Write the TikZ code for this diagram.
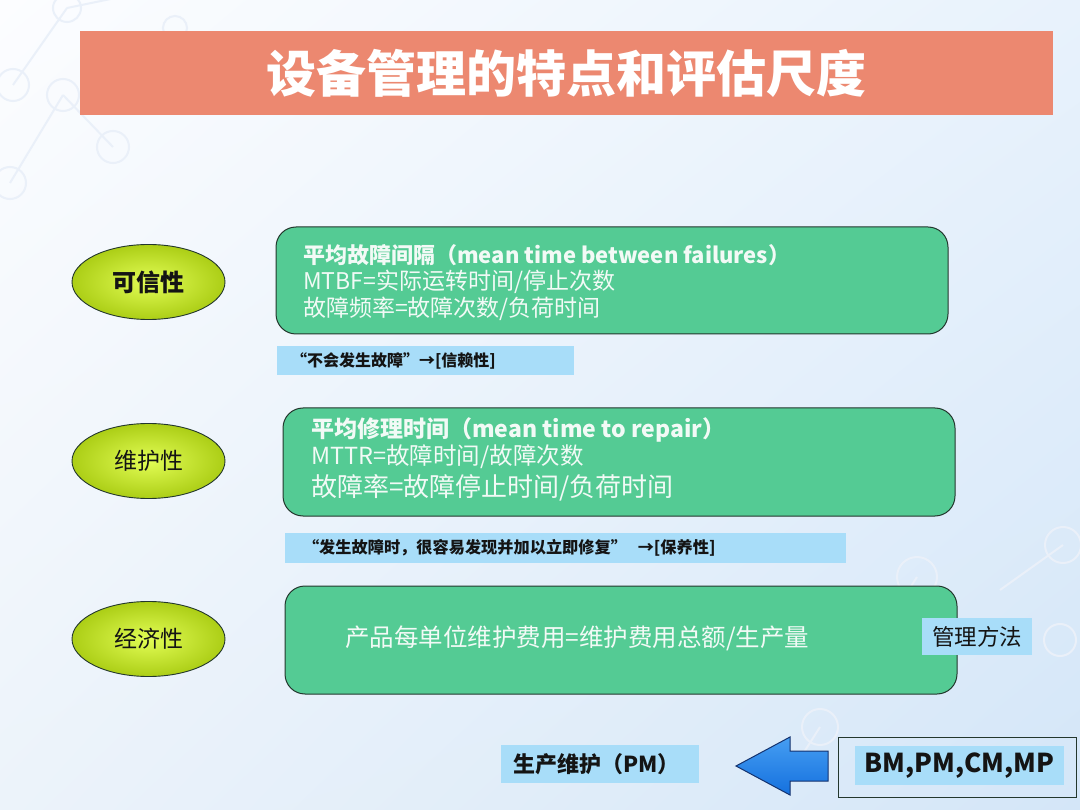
\documentclass[tikz,border=0pt]{standalone}
\usepackage{fontspec}
\setmainfont{Noto Sans CJK SC}
\usetikzlibrary{shapes.geometric,shadings}

\definecolor{titlebar}{RGB}{236,136,112}
\definecolor{boxgreen}{RGB}{84,203,148}
\definecolor{labelblue}{RGB}{168,221,249}
\definecolor{boxline}{RGB}{35,55,45}
\definecolor{boxtext}{RGB}{242,250,246}
\definecolor{ellin}{RGB}{226,253,85}
\definecolor{ellout}{RGB}{172,206,22}
\definecolor{arrowtop}{RGB}{70,158,242}
\definecolor{arrowbot}{RGB}{20,112,222}
\definecolor{arrowline}{RGB}{20,50,110}
\definecolor{deco}{RGB}{234,240,249}
\definecolor{bgtl}{RGB}{252,253,255}
\definecolor{bgtr}{RGB}{232,242,252}
\definecolor{bgbl}{RGB}{236,243,250}
\definecolor{bgbr}{RGB}{212,230,248}
\definecolor{darktext}{RGB}{20,20,20}

\begin{document}
\begin{tikzpicture}[x=1pt,y=-1pt,
  titlebox/.style={fill=titlebar, minimum width=973, minimum height=84, inner sep=0,
    text=white, font=\fontsize{50}{52}\selectfont\bfseries},
  ell/.style={ellipse, draw=boxline, line width=0.9pt, inner color=ellin, outer color=ellout,
    minimum width=153, minimum height=75, inner sep=0, text=darktext,
    font=\fontsize{23}{25}\selectfont},
  gbox/.style={draw=boxline, line width=1pt, fill=boxgreen, rounded corners=20,
    minimum width=672, inner sep=0},
  boxtxt/.style={anchor=west, inner sep=0, text=boxtext},
  lbl/.style={fill=labelblue, inner ysep=0, align=left, text=darktext},
  deconet/.style={draw=deco, line width=2pt}
]
\useasboundingbox (0,0) rectangle (1080,810);
\shade[upper left=bgtl, upper right=bgtr, lower left=bgbl, lower right=bgbr] (0,0) rectangle (1080,810);

% faint decorative network
\draw[deconet] (13,85) -- (67,8) (63,95) -- (10,183) (63,95) -- (113,147) (67,8) -- (130,-5);
\draw[deconet] (67,8) circle (14) (13,85) circle (16) (63,95) circle (16) (113,147) circle (16) (10,183) circle (16) (175,28) circle (12);
\draw[deconet] (1063,545) -- (1000,590) (917,577) -- (870,650) (820,727) -- (780,790);
\draw[deconet] (1063,545) circle (18) (917,577) circle (20) (820,727) circle (18) (1060,640) circle (16);

% title
\node[titlebox] (title) at (566.5,73) {设备管理的特点和评估尺度};

% ellipses
\node[ell, font=\fontsize{24}{26}\selectfont\bfseries] (e1) at (148.5,282) {可信性};
\node[ell] (e2) at (148.5,461) {维护性};
\node[ell] (e3) at (148.5,639) {经济性};

% green boxes
\node[gbox, minimum height=107] (b1) at (612,280.5) {};
\node[boxtxt, font=\fontsize{22}{24}\selectfont\bfseries] (t1a) at (303,255) {平均故障间隔（mean time between failures）};
\node[boxtxt, font=\fontsize{23}{24}\selectfont] (t1b) at (303,282) {MTBF=实际运转时间/停止次数};
\node[boxtxt, font=\fontsize{23}{24}\selectfont] (t1c) at (303,309) {故障频率=故障次数/负荷时间};

\node[gbox, minimum height=108] (b2) at (619,462) {};
\node[boxtxt, font=\fontsize{23}{24}\selectfont\bfseries] (t2a) at (311,430) {平均修理时间（mean time to repair）};
\node[boxtxt, font=\fontsize{23.5}{24}\selectfont] (t2b) at (311,457) {MTTR=故障时间/故障次数};
\node[boxtxt, font=\fontsize{26}{28}\selectfont] (t2c) at (311,488) {故障率=故障停止时间/负荷时间};

\node[gbox, minimum height=108] (b3) at (621,640) {};
\node[boxtxt, font=\fontsize{24.5}{26}\selectfont] (t3a) at (345,638) {产品每单位维护费用=维护费用总额/生产量};

% labels
\node[lbl, text width=269, inner xsep=14, minimum height=29, font=\fontsize{16}{18}\selectfont\bfseries] (l1) at (425.5,360.5) {“不会发生故障”→[信赖性]};
\node[lbl, text width=525, inner xsep=18, minimum height=30, font=\fontsize{16.2}{18}\selectfont\bfseries] (l2) at (565.5,548) {“发生故障时，很容易发现并加以立即修复”\ \ →[保养性]};
\node[lbl, align=center, minimum width=110, minimum height=37, inner xsep=0, font=\fontsize{22.5}{24}\selectfont] (l3) at (977,636.5) {管理方法};
\node[lbl, text width=174, inner xsep=12, minimum height=38, font=\fontsize{22}{24}\selectfont\bfseries] (l4) at (600,764) {生产维护（PM）};

% BM box
\node[draw=boxline, line width=1pt, minimum width=238, minimum height=60, inner sep=0] (bm) at (957,767) {};
\node[lbl, align=center, minimum width=209, minimum height=39, inner xsep=0, font=\fontsize{26}{28}\selectfont\bfseries] (l5) at (959.5,765.5) {BM,PM,CM,MP};

% blue arrow
\coordinate (atip) at (736,766);
\coordinate (aht) at (790,737);
\coordinate (ahb) at (790,795);
\coordinate (ast) at (790,751);
\coordinate (asb) at (790,781);
\coordinate (aet) at (828,751);
\coordinate (aeb) at (828,781);
\shade[top color=arrowtop, bottom color=arrowbot, draw=arrowline, line width=1pt, line join=miter]
  (atip) -- (aht) -- (ast) -- (aet) -- (aeb) -- (asb) -- (ahb) -- cycle;
\end{tikzpicture}
\end{document}
